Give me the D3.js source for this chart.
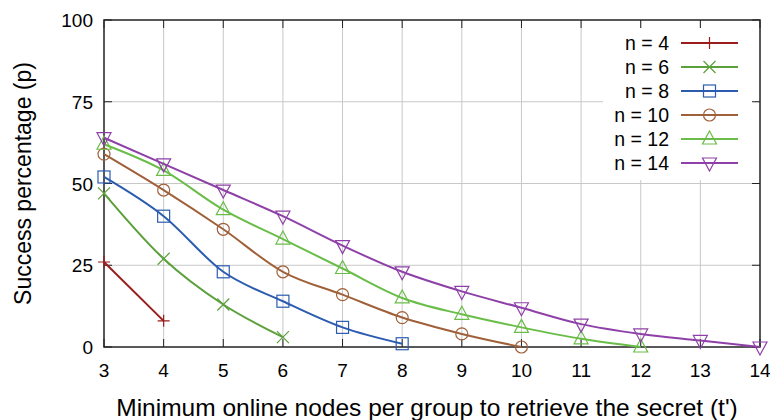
<!DOCTYPE html>
<html>
<head>
<meta charset="utf-8">
<script src="https://cdn.jsdelivr.net/npm/d3@7"></script>
<style>
  body { margin: 0; background: #fff; }
  text { font-family: "Liberation Sans", Arial, sans-serif; fill: #000; }
  .grid line { stroke: #c8c8c8; stroke-width: 1; }
</style>
</head>
<body>
<div id="graph"></div>
<script>
const xTicks = [3, 4, 5, 6, 7, 8, 9, 10, 11, 12, 13, 14];
const yTicks = [0, 25, 50, 75, 100];
const seriesNames = ["n = 4", "n = 6", "n = 8", "n = 10", "n = 12", "n = 14"];
const seriesColors = ["#9a1c1c", "#5ca03c", "#2c5cb0", "#a0603a", "#6abd48", "#8e40a8"];
const seriesMarkers = ["plus", "cross", "square", "circle", "triangle", "triangleDown"];

const n4 = [26, 8];
const n6 = [47, 27, 13, 3];
const n8 = [52, 40, 23, 14, 6, 1];
const n10 = [59, 48, 36, 23, 16, 9, 4, 0];
const n12 = [62, 54, 42, 33, 24, 15, 10, 6, 2.5, 0];
const n14 = [64, 56, 48, 40, 31, 23, 17, 12, 7, 4, 2, 0];
const seriesValues = [n4, n6, n8, n10, n12, n14];

const width = 770, height = 420;
const margin = { left: 104, right: 10, top: 20, bottom: 73 };

const svg = d3.select("#graph").append("svg")
  .attr("width", width).attr("height", height);

const x = d3.scaleLinear().domain([3, 14]).range([margin.left, width - margin.right]);
const y = d3.scaleLinear().domain([0, 100]).range([height - margin.bottom, margin.top]);

// grid
const grid = svg.append("g").attr("class", "grid");
grid.selectAll(".gx").data(xTicks.slice(1, -1)).join("line")
  .attr("x1", d => x(d)).attr("x2", d => x(d))
  .attr("y1", y(0)).attr("y2", y(100));
grid.selectAll(".gy").data(yTicks.slice(1, -1)).join("line")
  .attr("x1", x(3)).attr("x2", x(14))
  .attr("y1", d => y(d)).attr("y2", d => y(d));

// legend background covers grid
const legend = { left: 603, top: 28, rowH: 24, textX: 669, lineX1: 681, lineX2: 738 };
svg.append("rect")
  .attr("x", legend.left).attr("y", legend.top)
  .attr("width", 152).attr("height", legend.rowH * seriesNames.length + 8)
  .attr("fill", "#fff");

// frame and ticks
const frame = svg.append("g");
frame.append("rect")
  .attr("x", x(3)).attr("y", y(100))
  .attr("width", x(14) - x(3)).attr("height", y(0) - y(100))
  .attr("fill", "none").attr("stroke", "#222").attr("stroke-width", 1.5);

const tickLen = 8;
xTicks.forEach(t => {
  frame.append("line").attr("x1", x(t)).attr("x2", x(t))
    .attr("y1", y(0)).attr("y2", y(0) - tickLen).attr("stroke", "#222");
  frame.append("line").attr("x1", x(t)).attr("x2", x(t))
    .attr("y1", y(100)).attr("y2", y(100) + tickLen).attr("stroke", "#222");
});
yTicks.forEach(t => {
  frame.append("line").attr("x1", x(3)).attr("x2", x(3) + tickLen)
    .attr("y1", y(t)).attr("y2", y(t)).attr("stroke", "#222");
  frame.append("line").attr("x1", x(14)).attr("x2", x(14) - tickLen)
    .attr("y1", y(t)).attr("y2", y(t)).attr("stroke", "#222");
});

// tick labels
svg.append("g").selectAll("text").data(xTicks).join("text")
  .attr("x", d => x(d)).attr("y", y(0) + 30)
  .attr("text-anchor", "middle").attr("font-size", 19)
  .text(d => d);
svg.append("g").selectAll("text").data(yTicks).join("text")
  .attr("x", x(3) - 11).attr("y", d => y(d) + 7)
  .attr("text-anchor", "end").attr("font-size", 19)
  .text(d => d);

// axis titles
svg.append("text")
  .attr("x", 427).attr("y", 416)
  .attr("text-anchor", "middle").attr("font-size", 24.5)
  .text("Minimum online nodes per group to retrieve the secret (t')");
svg.append("text")
  .attr("transform", `translate(31, ${(y(0) + y(100)) / 2}) rotate(-90)`)
  .attr("text-anchor", "middle").attr("font-size", 23)
  .text("Success percentage (p)");

function drawMarker(g, type, cx, cy, color) {
  const s = 6;
  if (type === "plus") {
    g.append("path").attr("d", `M${cx - s},${cy}H${cx + s}M${cx},${cy - s}V${cy + s}`)
      .attr("stroke", color).attr("stroke-width", 1.2).attr("fill", "none");
  } else if (type === "cross") {
    g.append("path").attr("d", `M${cx - s},${cy - s}L${cx + s},${cy + s}M${cx - s},${cy + s}L${cx + s},${cy - s}`)
      .attr("stroke", color).attr("stroke-width", 1.2).attr("fill", "none");
  } else if (type === "square") {
    g.append("rect").attr("x", cx - s).attr("y", cy - s).attr("width", 2 * s).attr("height", 2 * s)
      .attr("stroke", color).attr("stroke-width", 1.2).attr("fill", "none");
  } else if (type === "circle") {
    g.append("circle").attr("cx", cx).attr("cy", cy).attr("r", s)
      .attr("stroke", color).attr("stroke-width", 1.2).attr("fill", "none");
  } else if (type === "triangle") {
    g.append("path").attr("d", `M${cx},${cy - 8}L${cx + 7},${cy + 5}L${cx - 7},${cy + 5}Z`)
      .attr("stroke", color).attr("stroke-width", 1.2).attr("fill", "none");
  } else if (type === "triangleDown") {
    g.append("path").attr("d", `M${cx},${cy + 8}L${cx + 7},${cy - 5}L${cx - 7},${cy - 5}Z`)
      .attr("stroke", color).attr("stroke-width", 1.2).attr("fill", "none");
  }
}

const line = d3.line()
  .x(d => x(d[0])).y(d => y(d[1]))
  .curve(d3.curveMonotoneX);

const plot = svg.append("g");
seriesValues.forEach((vals, i) => {
  const pts = vals.map((v, j) => [3 + j, v]);
  const g = plot.append("g");
  g.append("path").datum(pts).attr("d", line)
    .attr("fill", "none").attr("stroke", seriesColors[i]).attr("stroke-width", 2);
  pts.forEach(p => drawMarker(g, seriesMarkers[i], x(p[0]), y(p[1]), seriesColors[i]));
});

// legend entries
seriesNames.forEach((name, i) => {
  const cy = legend.top + 15 + i * legend.rowH;
  const g = svg.append("g");
  g.append("text").attr("x", legend.textX).attr("y", cy + 7)
    .attr("text-anchor", "end").attr("font-size", 19.5).text(name);
  g.append("line").attr("x1", legend.lineX1).attr("x2", legend.lineX2)
    .attr("y1", cy).attr("y2", cy)
    .attr("stroke", seriesColors[i]).attr("stroke-width", 2);
  drawMarker(g, seriesMarkers[i], (legend.lineX1 + legend.lineX2) / 2, cy, seriesColors[i]);
});
</script>
</body>
</html>
